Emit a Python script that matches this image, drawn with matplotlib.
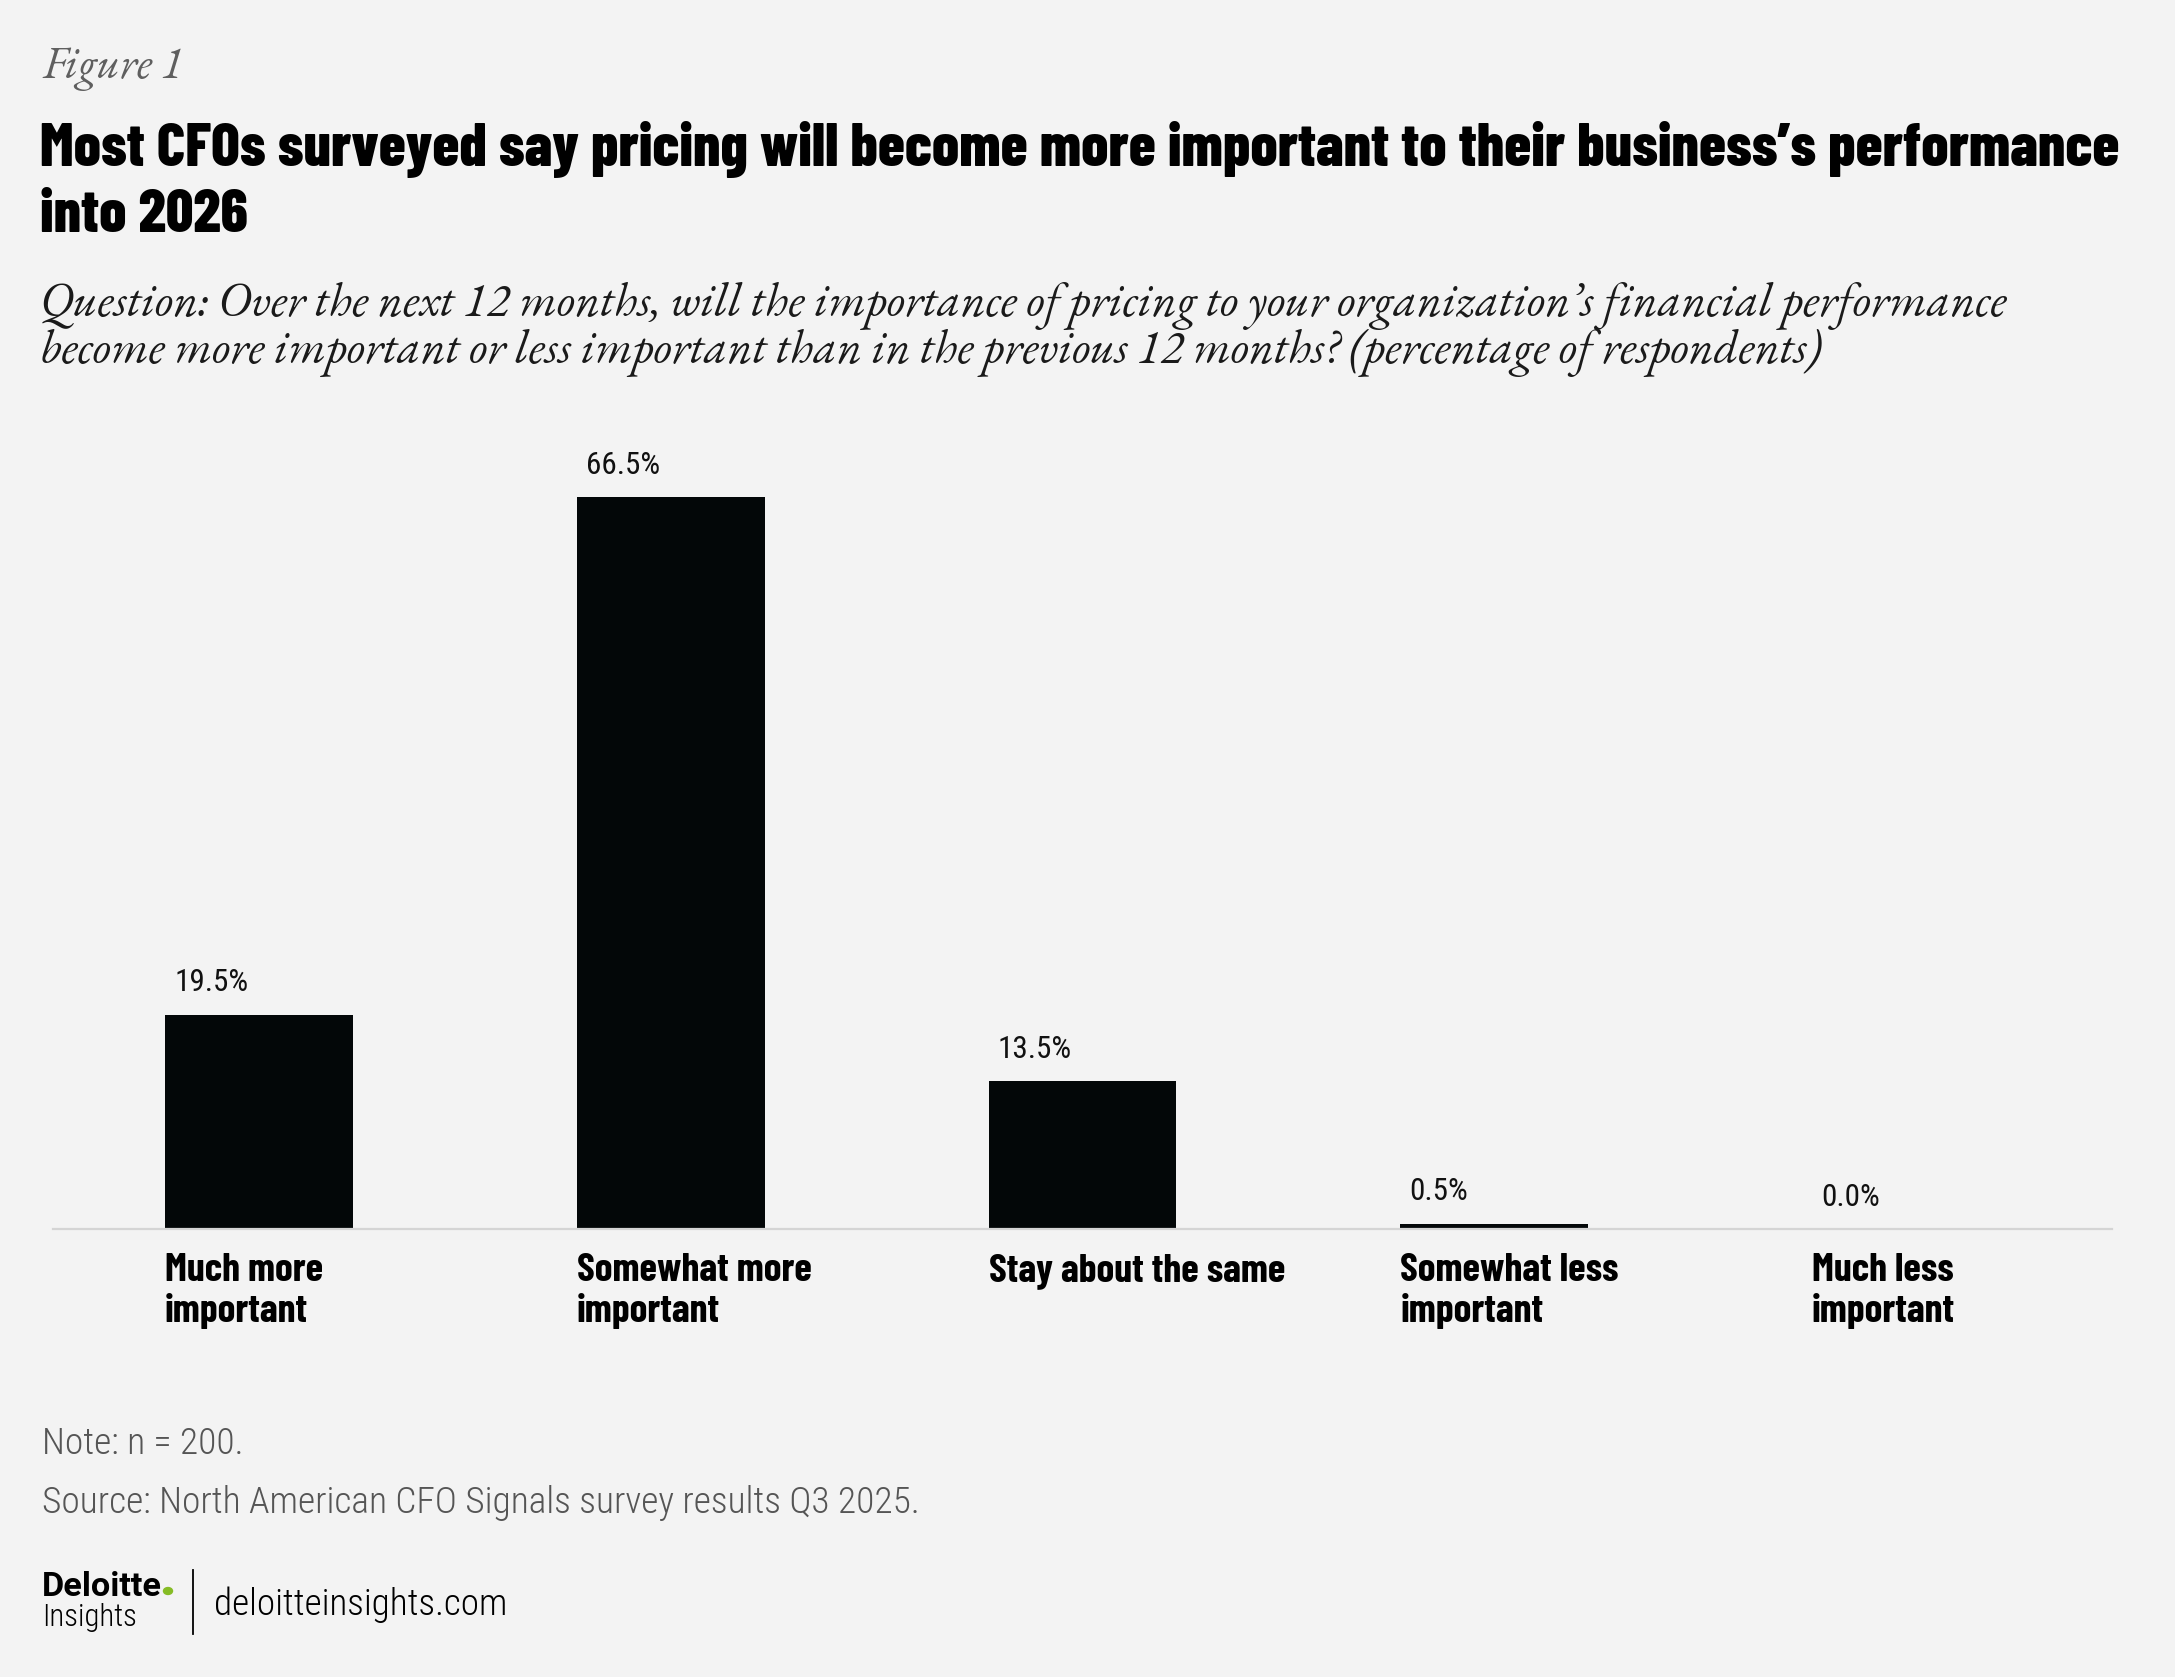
import matplotlib
matplotlib.use("Agg")
import matplotlib.pyplot as plt
from matplotlib import transforms

# data
categories = ["Much more\nimportant", "Somewhat more\nimportant", "Stay about the same",
              "Somewhat less\nimportant", "Much less\nimportant"]
values = [19.5, 66.5, 13.5, 0.5, 0.0]
value_labels = ["19.5%", "66.5%", "13.5%", "0.5%", "0.0%"]

fig_label = "Figure 1"
title_lines = ["Most CFOs surveyed say pricing will become more important to their business\u2019s performance",
               "into 2026"]
question_lines = ["Question: Over the next 12 months, will the importance of pricing to your organization\u2019s financial performance",
                  "become more important or less important than in the previous 12 months? (percentage of respondents)"]
note = "Note: n = 200."
source = "Source: North American CFO Signals survey results Q3 2025."

bg = "#f3f3f3"
bar_color = "#030708"
heavy = ["Barlow Condensed", "IBM Plex Sans Condensed", "DejaVu Sans"]
light = ["Roboto Condensed", "IBM Plex Sans Condensed", "DejaVu Sans"]
serif = ["EB Garamond", "Cormorant Garamond", "Liberation Serif"]

W, H = 2175, 1677
fig = plt.figure(figsize=(W / 100, H / 100), dpi=100, facecolor=bg)
renderer = fig.canvas.get_renderer()


def fx(px):
    return px / W


def fy(py):
    return 1 - py / H


def fit(t, target_px):
    # scale the font so the text spans target_px
    w = t.get_window_extent(renderer).width
    t.set_fontsize(t.get_fontsize() * target_px / w)
    return t.get_fontsize()


# header
t = fig.text(fx(42), fy(78), fig_label, family=serif, style="italic", fontsize=26,
             color="#5f5f5f", va="baseline")
fit(t, 141)

t1 = fig.text(fx(40), fy(166), title_lines[0], family=heavy, weight=800, fontsize=34,
              color="black", va="baseline")
ts = fit(t1, 2079)
fig.text(fx(40), fy(232), title_lines[1], family=heavy, weight=800, fontsize=ts,
         color="black", va="baseline")

q1 = fig.text(fx(40), fy(316), question_lines[0], family=serif, style="italic", fontsize=28,
              color="#1a1a1a", va="baseline")
qs = fit(q1, 1967)
fig.text(fx(40), fy(363), question_lines[1], family=serif, style="italic", fontsize=qs,
         color="#1a1a1a", va="baseline")

# bars
ax = fig.add_axes([fx(53), fy(1229), fx(2112) - fx(53), 770 / H])
ax.set_facecolor(bg)
bw = 0.456
x = list(range(len(values)))
ax.bar(x, values, width=bw, color=bar_color, zorder=2)
ax.set_xlim(-0.5, 4.5)
ax.set_ylim(0, 70)
for s in ["top", "right", "left"]:
    ax.spines[s].set_visible(False)
ax.spines["bottom"].set_color("#d4d4d4")
ax.spines["bottom"].set_linewidth(1.6)
ax.set_yticks([])
ax.set_xticks([])

# font sizes for the bar texts, fitted on one sample each
probe = fig.text(0, 0, "Stay about the same", family=heavy, weight="bold", fontsize=24)
cs = fit(probe, 295)
probe.remove()
probe = fig.text(0, 0, "19.5%", family=light, fontsize=20)
vs = fit(probe, 74)
probe.remove()

xt = transforms.blended_transform_factory(ax.transData, fig.transFigure)
for i, v in enumerate(values):
    ax.annotate(value_labels[i], xy=(i - bw / 2, v), xytext=(9, 23),
                textcoords="offset pixels", ha="left", va="baseline",
                family=light, fontsize=vs, color="#111111")
    for k, line in enumerate(categories[i].split("\n")):
        ax.text(i - bw / 2, fy(1281 + 41 * k), line, transform=xt, ha="left", va="baseline",
                family=heavy, weight="bold", fontsize=cs, color="black")

# footer
n = fig.text(fx(42), fy(1454), note, family=light, weight=300, fontsize=22, color="#555555",
             va="baseline")
s = fig.text(fx(42), fy(1513), source, family=light, weight=300, fontsize=22, color="#555555",
             va="baseline")
n.set_fontsize(fit(s, 877))

dl = fig.text(fx(42), fy(1596), "Deloitte", family=["Roboto", "DejaVu Sans"], weight="bold",
              fontsize=20, color="black", va="baseline")
fit(dl, 120)
bb = dl.get_window_extent(renderer)
fig.add_artist(plt.Circle((fx(bb.x1 + 6), fy(1591)), 4.5 / W, color="#86bc25",
                          transform=fig.transFigure))
ins = fig.text(fx(42), fy(1626), "Insights", family=light, weight=300, fontsize=20, color="black",
               va="baseline")
fit(ins, 95)
fig.add_artist(plt.Line2D([fx(193), fx(193)], [fy(1570), fy(1634)], color="black", lw=1.3))
url = fig.text(fx(214), fy(1615), "deloitteinsights.com", family=light, weight=300, fontsize=24,
               color="black", va="baseline")
fit(url, 294)

fig.savefig("out.png", dpi=100, facecolor=bg)
